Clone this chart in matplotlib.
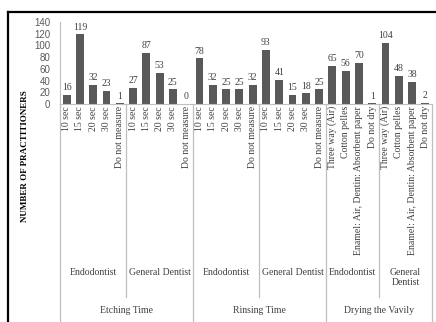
import matplotlib
matplotlib.use("Agg")
import matplotlib.pyplot as plt
from matplotlib.lines import Line2D
import numpy as np

plt.rcParams['font.family'] = ['Liberation Serif', 'DejaVu Serif']

# categories per subgroup
time_cats = ["10 sec", "15 sec", "20 sec", "30 sec", "Do not measure"]
dry_cats = ["Three way (Air)", "Cotton pelles",
            "Enamel: Air, Dentin: Absorbent paper", "Do not dry"]

# counts of practitioners
etch_endo = [16, 119, 32, 23, 1]
etch_gd = [27, 87, 53, 25, 0]
rinse_endo = [78, 32, 25, 25, 32]
rinse_gd = [93, 41, 15, 18, 25]
dry_endo = [65, 56, 70, 1]
dry_gd = [104, 48, 38, 2]

subgroups = ["Endodontist", "General Dentist"] * 2 + ["Endodontist", "General\nDentist"]
groups = ["Etching Time", "Rinsing Time", "Drying the Vavily"]

labels = time_cats * 4 + dry_cats * 2
values = etch_endo + etch_gd + rinse_endo + rinse_gd + dry_endo + dry_gd
sub_sizes = [5, 5, 5, 5, 4, 4]

W, H = 436, 322
fig = plt.figure(figsize=(W / 100, H / 100), dpi=100)
fig.patch.set_facecolor("white")

# axes box in pixels: left 60, right 432, top 22, bottom 104
ax_l, ax_r, ax_t, ax_b = 60, 432, 22, 104
ax = fig.add_axes([ax_l / W, 1 - ax_b / H, (ax_r - ax_l) / W, (ax_b - ax_t) / H])

x = np.arange(len(values))
bars = ax.bar(x, values, width=0.6, color="#595959")
ax.set_xlim(-0.5, len(values) - 0.5)
ax.set_ylim(0, 140)
ax.set_yticks(range(0, 141, 20))
ax.tick_params(axis="y", length=0, pad=7, labelsize=7, labelcolor="#595959")
for t in ax.get_yticklabels():
    t.set_family("Liberation Sans")
ax.set_xticks([])
for s in ["top", "right"]:
    ax.spines[s].set_visible(False)
ax.spines["left"].set_color("#bfbfbf")
ax.spines["bottom"].set_color("#bfbfbf")
ax.spines["left"].set_linewidth(0.8)
ax.spines["bottom"].set_linewidth(0.8)

for b, v in zip(bars, values):
    ax.annotate(str(v), (b.get_x() + b.get_width() / 2, v), xytext=(0, 2),
                textcoords="offset points", ha="center", va="bottom",
                fontsize=7, color="#404040")


def ya(py):
    # pixel row -> axes y coordinate
    return (ax_b - py) / (ax_b - ax_t)


tr = ax.get_xaxis_transform()

# rotated category labels
for xi, lab in zip(x, labels):
    ax.text(xi, ya(106), lab, rotation=90, ha="center", va="top",
            fontsize=7, color="#404040", transform=tr, clip_on=False)

# separators and group labels
edges = np.concatenate([[0], np.cumsum(sub_sizes)]) - 0.5
line_kw = dict(color="#bfbfbf", lw=0.9, transform=tr, clip_on=False)
for i, e in enumerate(edges):
    major = i in (0, 2, 4, 6)
    bottom = ya(H + 2) if major else ya(297)
    ax.plot([e, e], [0, bottom], **line_kw)

for i, name in enumerate(subgroups):
    mid = (edges[i] + edges[i + 1]) / 2
    ax.text(mid, ya(268), name, ha="center", va="top", fontsize=7,
            color="#404040", transform=tr, clip_on=False, linespacing=1.15)

for i, name in enumerate(groups):
    mid = (edges[2 * i] + edges[2 * i + 2]) / 2
    ax.text(mid, ya(311), name, ha="center", va="center", fontsize=7,
            color="#404040", transform=tr, clip_on=False)

fig.text(25 / W, 1 - 156 / H, "NUMBER OF PRACTITIONERS", rotation=90,
         ha="center", va="center", fontsize=6.5, fontweight="bold")

# outer frame (left and top edges)
fig.add_artist(Line2D([8 / W, 8 / W], [0, 1 - 12 / H], color="black", lw=1.6,
                      transform=fig.transFigure))
fig.add_artist(Line2D([8 / W, 1], [1 - 12 / H, 1 - 12 / H], color="black", lw=1.6,
                      transform=fig.transFigure))

fig.savefig("out.png", dpi=100, facecolor="white")
